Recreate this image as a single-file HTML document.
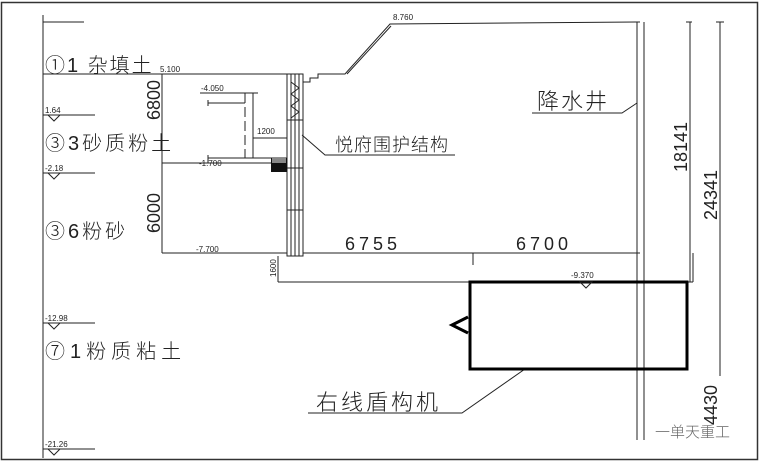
<!DOCTYPE html>
<html><head><meta charset="utf-8"><style>
html,body{margin:0;padding:0;background:#fff}
svg{display:block}
text{font-family:"Liberation Sans","Noto Sans CJK SC",sans-serif;fill:#222}
.c{font-family:"Noto Sans CJK SC","WenQuanYi Zen Hei",sans-serif;font-weight:300}
</style></head><body>
<svg width="760" height="464" viewBox="0 0 760 464" xmlns="http://www.w3.org/2000/svg">
<rect x="0" y="0" width="760" height="464" fill="#fff"/>
<rect x="1.5" y="2.5" width="756" height="457" fill="none" stroke="#333" stroke-width="1.5"/>
<g stroke="#222" stroke-width="1" fill="none">
<line x1="43" y1="15" x2="43" y2="458"/>
<line x1="43" y1="22" x2="84" y2="22"/>
<line x1="43" y1="74" x2="287" y2="74"/>
<polyline points="303,74 303,82 310,82 310,78 318,78 318,74 345,74 390,24 640,22"/>
<line x1="347" y1="74" x2="391" y2="26"/>
<line x1="637" y1="22" x2="637" y2="440"/>
<line x1="644" y1="22" x2="644" y2="440"/>
<line x1="690" y1="22" x2="690" y2="282"/>
<line x1="686" y1="22" x2="692" y2="22"/>
<line x1="720" y1="22" x2="720" y2="372"/>
<line x1="716" y1="22" x2="724" y2="22"/>
<line x1="720" y1="368" x2="720" y2="376"/>
<line x1="43" y1="115" x2="95" y2="115"/>
<line x1="43" y1="173" x2="95" y2="173"/>
<line x1="43" y1="323" x2="95" y2="323"/>
<line x1="43" y1="449" x2="95" y2="449"/>
<line x1="162" y1="74" x2="162" y2="253"/>
<line x1="162" y1="163" x2="287" y2="163"/>
<line x1="162" y1="253" x2="287" y2="253"/>
<line x1="200" y1="93" x2="258" y2="93"/>
<line x1="208" y1="103" x2="245" y2="103"/>
<line x1="208" y1="100" x2="208" y2="106"/>
<line x1="245" y1="93" x2="245" y2="158" stroke-dasharray="10,4"/>
<line x1="253" y1="93" x2="253" y2="158"/>
<line x1="253" y1="138" x2="287" y2="138"/>
<line x1="208" y1="158" x2="287" y2="158"/>
<line x1="208" y1="155" x2="208" y2="163"/>
<rect x="287" y="74" width="16" height="182"/>
<line x1="291" y1="74" x2="291" y2="256"/>
<line x1="295" y1="74" x2="295" y2="256"/>
<line x1="299" y1="74" x2="299" y2="256"/>
<polyline points="291,82 299,88 291,94 299,100 291,106 299,112 291,118"/>
<line x1="287" y1="120" x2="303" y2="120"/>
<line x1="287" y1="168" x2="303" y2="168"/>
<line x1="287" y1="210" x2="303" y2="210"/>
<line x1="303" y1="253" x2="640" y2="253"/>
<line x1="473" y1="253" x2="473" y2="265"/>
<line x1="278" y1="256" x2="278" y2="282"/>
<line x1="278" y1="282" x2="693" y2="282"/>
<line x1="693" y1="253" x2="693" y2="282"/>
<polyline points="302,135 325,155 455,155"/>
<polyline points="532,113 622,113 637,103"/>
<polyline points="308,413 462,413 525,369"/>
</g>
<rect x="271" y="158" width="16" height="14" fill="#111"/>
<rect x="272" y="158" width="14" height="5" fill="#888"/>
<rect x="470" y="282" width="217" height="87" fill="none" stroke="#000" stroke-width="3"/>
<polyline points="468,317 452,325 468,333" fill="none" stroke="#000" stroke-width="3"/>
<polygon points="48,115 54,121 60,115" fill="none" stroke="#222"/>
<polygon points="48,173 54,179 60,173" fill="none" stroke="#222"/>
<polygon points="48,323 54,329 60,323" fill="none" stroke="#222"/>
<polygon points="48,449 54,455 60,449" fill="none" stroke="#222"/>
<polygon points="580,282 586,288 592,282" fill="none" stroke="#222"/>
<g font-size="8">
<text x="393" y="20">8.760</text>
<text x="160" y="72">5.100</text>
<text x="45" y="113">1.64</text>
<text x="45" y="171">-2.18</text>
<text x="45" y="321">-12.98</text>
<text x="45" y="447">-21.26</text>
<text x="201" y="91">-4.050</text>
<text x="257" y="134">1200</text>
<text x="199" y="166">-1.700</text>
<text x="196" y="252">-7.700</text>
<text x="571" y="278">-9.370</text>
</g>
<g class="c" font-size="20">
<text x="45" y="72" letter-spacing="2">①1 杂填土</text>
<text x="45" y="150" letter-spacing="3">③3砂质粉土</text>
<text x="45" y="238" letter-spacing="3">③6粉砂</text>
<text x="45" y="358" letter-spacing="5">⑦1粉质粘土</text>
<text x="335" y="151" font-size="18" letter-spacing="1">悦府围护结构</text>
<text x="537" y="109" font-size="22" letter-spacing="2">降水井</text>
<text x="316" y="410" font-size="22" letter-spacing="3">右线盾构机</text>
<text x="655" y="437" font-size="15" style="fill:#666">一单天重工</text>
</g>
<g font-size="18">
<text x="345" y="250" letter-spacing="4">6755</text>
<text x="516" y="250" letter-spacing="4">6700</text>
<text transform="translate(160,120) rotate(-90)">6800</text>
<text transform="translate(160,233) rotate(-90)">6000</text>
<text transform="translate(687,172) rotate(-90)">18141</text>
<text transform="translate(717,220) rotate(-90)">24341</text>
<text transform="translate(717,425) rotate(-90)">4430</text>
<text transform="translate(276,277) rotate(-90)" font-size="8">1600</text>
</g>
</svg>
</body></html>
